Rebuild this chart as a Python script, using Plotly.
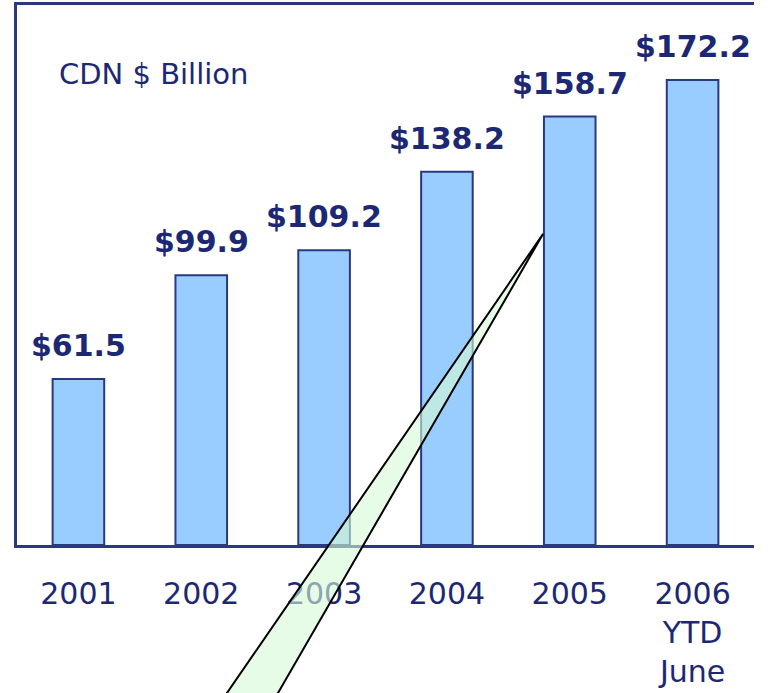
import plotly.graph_objects as go

years = ["2001", "2002", "2003", "2004", "2005", "2006<br>YTD<br>June"]
values = [61.5, 99.9, 109.2, 138.2, 158.7, 172.2]
value_labels = ["$61.5", "$99.9", "$109.2", "$138.2", "$158.7", "$172.2"]
unit_label = "CDN $ Billion"

navy = "#1c2874"
xs = list(range(len(years)))

fig = go.Figure()
fig.add_trace(go.Bar(
    x=xs, y=values, width=0.42,
    marker=dict(color="#99ccff", line=dict(color="#2a3880", width=2)),
    hoverinfo="skip",
))

for x, v, t in zip(xs, values, value_labels):
    fig.add_annotation(x=x, y=v, text="<b>" + t + "</b>", showarrow=False,
                       yanchor="bottom", yshift=14,
                       font=dict(family="DejaVu Sans", size=30, color=navy))

fig.add_annotation(xref="paper", yref="paper", x=0.054, y=0.872, text=unit_label,
                   showarrow=False, xanchor="left", yanchor="middle",
                   font=dict(family="DejaVu Sans", size=29, color=navy))

# callout pointer (light green wedge)
fig.add_shape(type="path", xref="paper", yref="paper",
              path="M 0.7137 0.5759 L 0.2597 -0.324 L 0.333 -0.324 Z",
              fillcolor="rgba(213,250,213,0.6)", line=dict(color="black", width=2),
              layer="above")

fig.update_layout(
    width=768, height=693,
    margin=dict(l=17, r=14, t=5, b=148, autoexpand=False),
    paper_bgcolor="white", plot_bgcolor="white",
    showlegend=False,
    xaxis=dict(range=[-0.5, 5.5], tickvals=xs, ticktext=years, automargin=False,
               showline=True, mirror=True, linecolor="#2a3880", linewidth=2.5,
               showgrid=False, zeroline=False, ticks="", ticklabelstandoff=20,
               tickfont=dict(family="DejaVu Sans", size=30, color=navy)),
    yaxis=dict(range=[0, 200], showline=True, linecolor="#2a3880", linewidth=2.5,
               automargin=False,
               showgrid=False, zeroline=False, showticklabels=False, ticks=""),
)

fig.write_html("out.html", config={"displayModeBar": False},
               post_script="document.body.style.margin='0px';document.body.style.overflow='hidden';")
